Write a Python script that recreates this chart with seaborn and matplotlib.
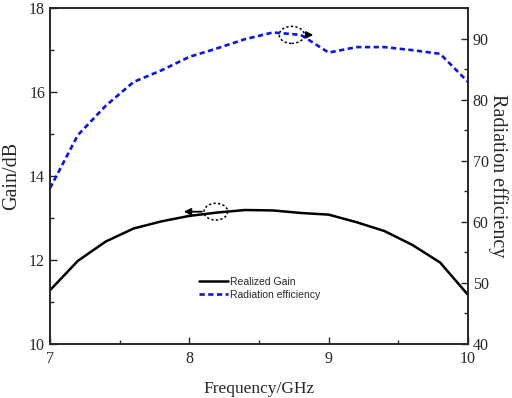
import numpy as np
import pandas as pd
import matplotlib
matplotlib.use("Agg")
import matplotlib.pyplot as plt
from matplotlib.patches import Ellipse
from matplotlib.ticker import MultipleLocator
import seaborn as sns

# Values
frequency = [7.0, 7.2, 7.4, 7.6, 7.8, 8.0, 8.2, 8.4, 8.6, 8.8, 9.0, 9.2, 9.4, 9.6, 9.8, 10.0]
realized_gain = [11.28, 11.98, 12.44, 12.75, 12.92, 13.05, 13.13, 13.19, 13.18, 13.12, 13.08,
                 12.90, 12.69, 12.36, 11.94, 11.17]
radiation_efficiency = [65.5, 74.2, 79.0, 82.9, 84.8, 87.0, 88.4, 89.9, 91.0, 90.6, 87.7,
                        88.6, 88.6, 88.1, 87.5, 82.9]

df = pd.DataFrame({"freq": frequency, "gain": realized_gain, "eff": radiation_efficiency})

sns.set_style("ticks")
serif = "Liberation Serif"
sans = "Liberation Sans"

fig = plt.figure(figsize=(5.12, 3.98), dpi=100)
ax = fig.add_axes([50 / 512, 1 - 344 / 398, 418 / 512, 336 / 398])
ax2 = ax.twinx()

sns.lineplot(data=df, x="freq", y="gain", ax=ax, color="black", linewidth=1.8, legend=False)
sns.lineplot(data=df, x="freq", y="eff", ax=ax2, color="#0a14e6", linewidth=1.9, legend=False)
ax2.lines[0].set_dashes((2.0, 1.3))

ax.set_xlim(7, 10)
ax.set_ylim(10, 18)
ax2.set_ylim(40, 95)
ax.xaxis.set_major_locator(MultipleLocator(1))
ax.xaxis.set_minor_locator(MultipleLocator(0.5))
ax.yaxis.set_major_locator(MultipleLocator(2))
ax.yaxis.set_minor_locator(MultipleLocator(1))
ax2.yaxis.set_major_locator(MultipleLocator(10))
ax2.yaxis.set_minor_locator(MultipleLocator(5))

for a in (ax, ax2):
    a.tick_params(which="major", direction="in", length=5, width=1, labelsize=11.5)
    a.tick_params(which="minor", direction="in", length=3, width=1)
    for lab in a.get_xticklabels() + a.get_yticklabels():
        lab.set_fontfamily(serif)
    for s in a.spines.values():
        s.set_linewidth(1.2)
        s.set_visible(True)
ax.tick_params(axis="x", pad=5)

ax.set_xlabel("Frequency/GHz", fontfamily=serif, fontsize=12.5, labelpad=10)
ax.set_ylabel("Gain/dB", fontfamily=serif, fontsize=14.5, labelpad=6)
ax2.set_ylabel("Radiation efficiency", fontfamily=serif, fontsize=14.5, rotation=270, labelpad=14)

# dotted ellipses with arrows pointing to each curve's axis
ax2.add_patch(Ellipse((8.735, 90.6), 0.18, 2.8, fill=False, ls=(0, (1.5, 1.5)), lw=1.1, color="black"))
ax2.annotate("", xy=(8.91, 90.6), xytext=(8.73 + 0.09, 90.6),
             arrowprops=dict(arrowstyle="-|>", color="black", lw=1.3, mutation_scale=10))
ax.add_patch(Ellipse((8.19, 13.15), 0.17, 0.40, fill=False, ls=(0, (1.5, 1.5)), lw=1.1, color="black"))
ax.annotate("", xy=(7.94, 13.15), xytext=(8.11, 13.15),
             arrowprops=dict(arrowstyle="-|>", color="black", lw=1.3, mutation_scale=10))

handles = [ax.lines[0], ax2.lines[0]]
ax.legend(handles, ["Realized Gain", "Radiation efficiency"], loc="upper left",
          bbox_to_anchor=(0.345, 0.215), frameon=False, prop={"family": sans, "size": 7.5},
          handlelength=2.7, handletextpad=0.25, labelspacing=0.25, borderpad=0)

fig.savefig("out.png", dpi=100)
